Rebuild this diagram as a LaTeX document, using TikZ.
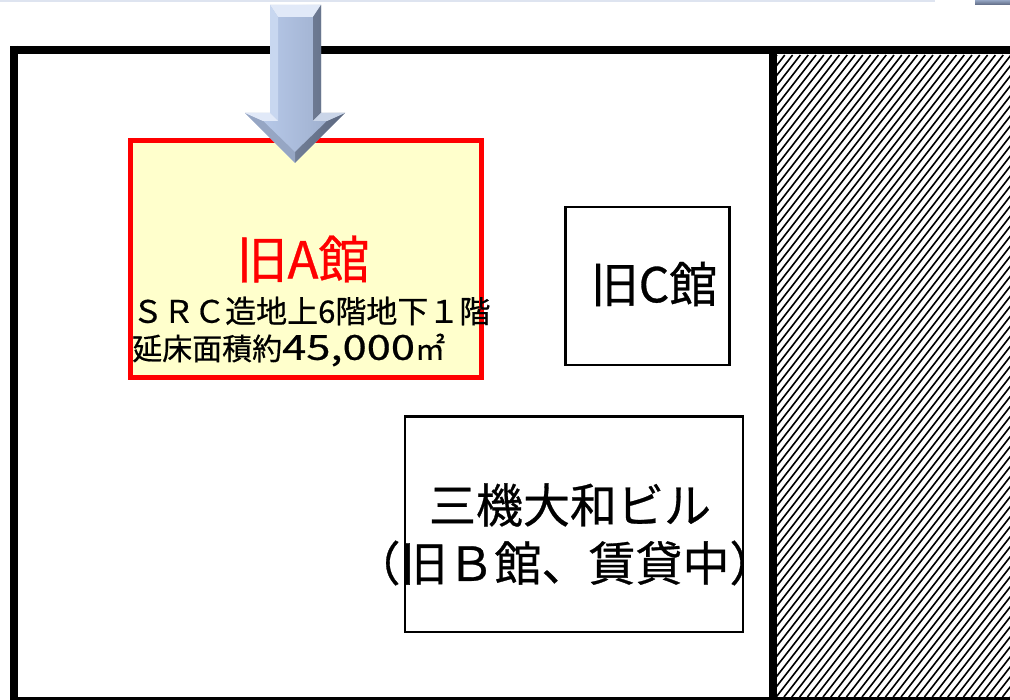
\documentclass[tikz,border=0pt]{standalone}
\usepackage{fontspec}
\setmainfont{Noto Sans CJK JP}[FakeBold=0.6]
\definecolor{arLight}{RGB}{200,215,240}
\definecolor{arFace}{RGB}{182,200,232}
\definecolor{arMid}{RGB}{150,166,196}
\definecolor{arDark}{RGB}{92,104,128}
\definecolor{arTop}{RGB}{225,233,248}
\definecolor{boxFill}{RGB}{255,255,204}
\definecolor{topLine}{RGB}{222,228,240}
\begin{document}
\begin{tikzpicture}[x=1pt,y=-1pt,
  bldg/.style={draw=black,line width=2.5pt,fill=white,inner sep=0pt,anchor=north west},
  frame/.style={draw=black,line width=8.5pt},
  lbl/.style={inner sep=0pt,text=black},
  hatch/.style={line width=1.6pt,black}]
\useasboundingbox (0,0) rectangle (1010,700);
\fill[white] (0,0) rectangle (1010,700);
% top strip remnants
\fill[topLine] (0,0) rectangle (935,2.5);
\shade[top color=arMid,bottom color=arDark] (975,0) rectangle (1010,5);
% hatched area
\begin{scope}
\clip (777,55) rectangle (1010,697);
\foreach \i in {0,...,110} {
  \draw[hatch] (777-500+\i*7.8,697) -- ++(500,-642);
}
\end{scope}
% outer frame
\draw[frame] (14,50) -- (1015,50);
\draw[frame] (14,46) -- (14,700);
\draw[frame] (773,50) -- (773,700);
\draw[black,line width=4pt] (12,698.5) -- (1010,698.5);
% old A building
\node[draw=red,line width=5pt,fill=boxFill,inner sep=0pt,anchor=north west,
      minimum width=351.5pt,minimum height=237pt] (A) at (127.5,138) {};
\node[lbl,text=red,font=\fontsize{51}{51}\selectfont] (Atitle) at (303,259) {旧A館};
\node[lbl,anchor=west,font=\fontsize{31}{31}\selectfont] (Al1) at (132,311) {ＳＲＣ造地上6階地下１階};
\node[lbl,anchor=west,font=\fontsize{30}{30}\selectfont] (Al2) at (132,350) {延床面積約\scalebox{1.45}[1.15]{45,000}㎡};
% old C building
\node[bldg,minimum width=164pt,minimum height=158pt] (C) at (564,206) {};
\node[lbl,font=\fontsize{48}{48}\selectfont] (Ct) at (654,284) {旧C館};
% Sanki Yamato building
\node[bldg,minimum width=338pt,minimum height=215pt] (B) at (403.5,415.5) {};
\node[lbl,font=\fontsize{47}{47}\selectfont] (Bt1) at (570,505) {三機大和ビル};
\node[lbl,font=\fontsize{47}{47}\selectfont] (Bt2) at (565,563) {（旧Ｂ館、賃貸中）};
% arrow
\shade[left color=arMid,right color=arDark,middle color=arLight]
  (270,5) -- (321,5) -- (321,113) -- (345,113) -- (295,163) -- (245,113) -- (270,113) -- cycle;
\shade[left color=arFace,right color=arMid!70!arFace]
  (278,17) -- (313,17) -- (313,121) -- (327,121) -- (295,152) -- (263,121) -- (278,121) -- cycle;
\fill[arTop] (270,5) -- (321,5) -- (313,17) -- (278,17) -- cycle;
\fill[arDark,opacity=0.75] (321,5) -- (321,113) -- (313,121) -- (313,17) -- cycle;
\fill[arLight] (270,5) -- (278,17) -- (278,121) -- (270,113) -- cycle;
\fill[arDark,opacity=0.8] (345,113) -- (295,163) -- (295,152) -- (327,121) -- cycle;
\fill[arMid] (245,113) -- (263,121) -- (295,152) -- (295,163) -- cycle;
\fill[arTop] (245,113) -- (270,113) -- (278,121) -- (263,121) -- cycle;
\fill[arTop!70!arMid] (321,113) -- (345,113) -- (327,121) -- (313,121) -- cycle;
\end{tikzpicture}
\end{document}
